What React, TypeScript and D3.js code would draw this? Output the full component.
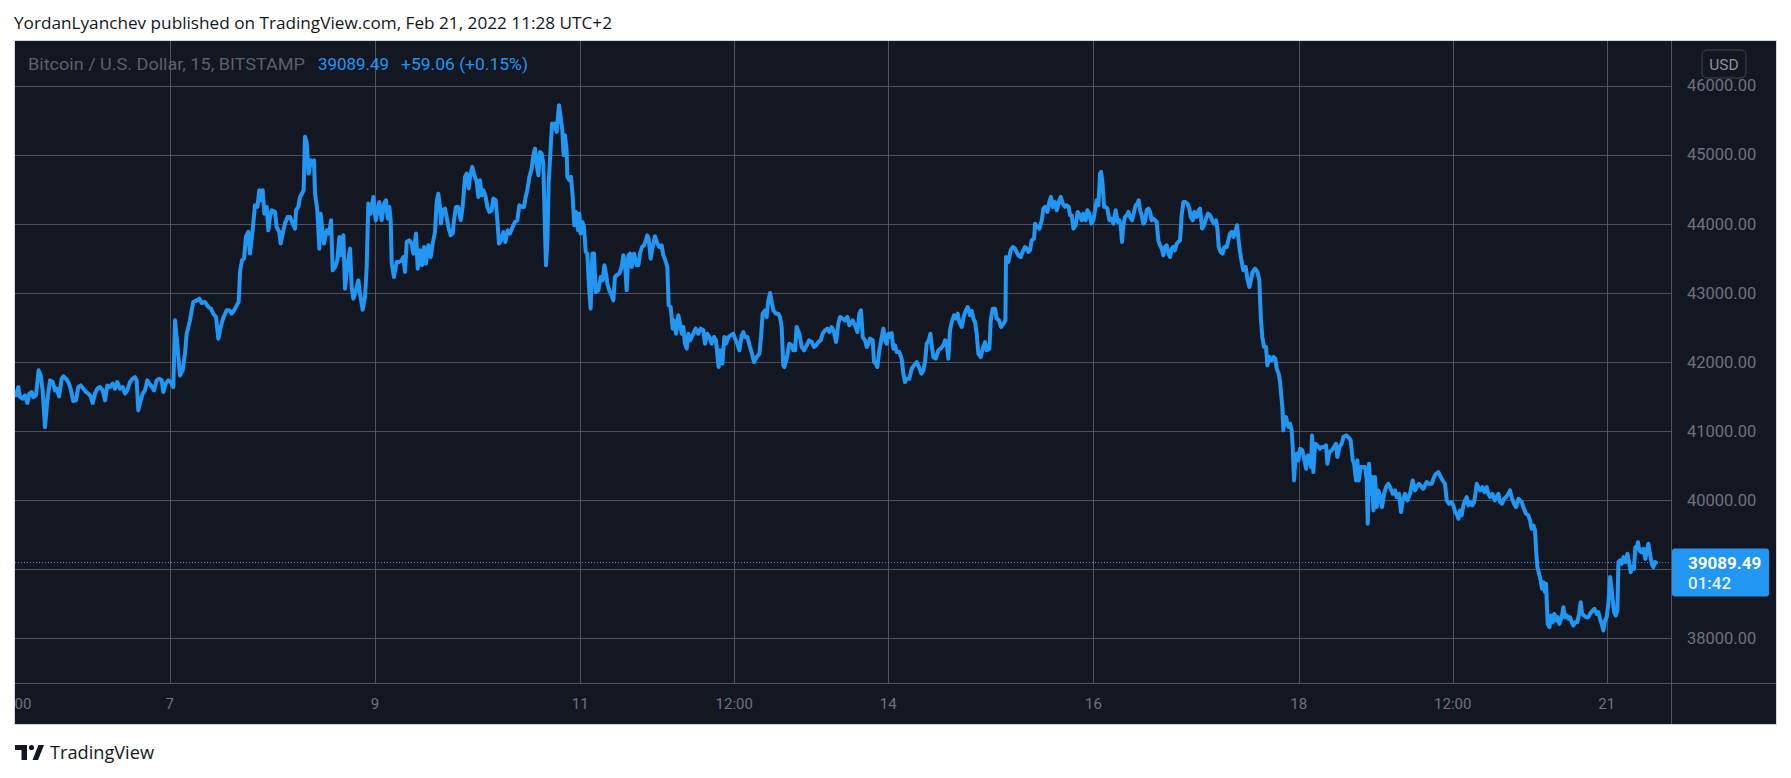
import React from "react";
import * as d3 from "d3";

// Bitcoin / U.S. Dollar, 15-minute closes (day of February, price in USD)
const btcPrice: [number, number][] = [
[5.503,41511],[5.525,41632],[5.542,41487],[5.568,41463],[5.590,41511],[5.613,41400],[5.633,41536],[5.655,41560],[5.671,41487],[5.697,41511],[5.723,41874],[5.743,41801],[5.762,41584],[5.785,41053],[5.808,41439],[5.834,41729],[5.860,41705],[5.883,41584],[5.899,41608],[5.922,41497],[5.948,41753],[5.964,41787],[5.990,41753],[6.012,41705],[6.035,41608],[6.061,41429],[6.087,41439],[6.110,41632],[6.133,41656],[6.159,41608],[6.185,41560],[6.207,41536],[6.230,41497],[6.250,41400],[6.272,41536],[6.295,41608],[6.321,41632],[6.347,41584],[6.370,41439],[6.392,41656],[6.418,41632],[6.444,41681],[6.467,41608],[6.490,41705],[6.516,41608],[6.542,41632],[6.565,41536],[6.587,41584],[6.613,41705],[6.639,41753],[6.662,41777],[6.678,41729],[6.694,41294],[6.717,41439],[6.737,41536],[6.759,41584],[6.782,41729],[6.802,41681],[6.824,41642],[6.847,41584],[6.873,41729],[6.899,41753],[6.922,41729],[6.938,41560],[6.964,41690],[6.987,41729],[7.009,41705],[7.035,41632],[7.052,42598],[7.074,42260],[7.100,41801],[7.126,41874],[7.149,42115],[7.165,42405],[7.182,42502],[7.198,42598],[7.214,42743],[7.230,42864],[7.263,42888],[7.289,42912],[7.311,42850],[7.344,42864],[7.376,42792],[7.402,42768],[7.425,42695],[7.451,42647],[7.474,42333],[7.497,42502],[7.523,42637],[7.555,42743],[7.581,42743],[7.604,42695],[7.627,42743],[7.653,42816],[7.672,42864],[7.685,43299],[7.704,43468],[7.724,43492],[7.743,43806],[7.766,43879],[7.782,43565],[7.808,43903],[7.831,44265],[7.854,44241],[7.873,44483],[7.886,44338],[7.906,44483],[7.922,44144],[7.945,44241],[7.961,43903],[7.977,44096],[7.994,44193],[8.026,44169],[8.042,43951],[8.068,43879],[8.081,43710],[8.101,43855],[8.123,44000],[8.149,44096],[8.172,44096],[8.198,44000],[8.221,43927],[8.231,44193],[8.253,44241],[8.270,44386],[8.289,44434],[8.305,44483],[8.318,45256],[8.334,45183],[8.354,44724],[8.373,44917],[8.393,44845],[8.406,44917],[8.416,44434],[8.438,44193],[8.458,43637],[8.471,44144],[8.487,43903],[8.503,43710],[8.529,43903],[8.552,43855],[8.572,44048],[8.588,43323],[8.611,43371],[8.633,43468],[8.653,43806],[8.666,43540],[8.692,43830],[8.708,43057],[8.724,43275],[8.740,43468],[8.757,43637],[8.773,43081],[8.789,42912],[8.815,43033],[8.838,43178],[8.854,42985],[8.880,42753],[8.903,42937],[8.919,43371],[8.935,44289],[8.958,44144],[8.984,44386],[9.007,44048],[9.026,44193],[9.042,44313],[9.065,44048],[9.088,44289],[9.107,44338],[9.124,44072],[9.140,44241],[9.153,44048],[9.163,43420],[9.185,43226],[9.211,43444],[9.237,43444],[9.260,43468],[9.276,43516],[9.293,43299],[9.309,43734],[9.335,43758],[9.357,43710],[9.374,43565],[9.400,43855],[9.416,43347],[9.439,43613],[9.458,43396],[9.478,43661],[9.497,43420],[9.520,43685],[9.543,43516],
[9.562,43710],[9.585,43879],[9.601,44313],[9.617,44434],[9.633,44241],[9.643,44000],[9.659,44193],[9.682,44217],[9.698,44096],[9.715,43951],[9.737,43830],[9.757,43855],[9.770,44048],[9.789,44241],[9.812,44241],[9.835,44048],[9.854,44241],[9.877,44676],[9.893,44724],[9.913,44507],[9.926,44676],[9.948,44821],[9.968,44700],[9.991,44603],[10.007,44386],[10.023,44628],[10.039,44410],[10.056,44483],[10.078,44386],[10.095,44241],[10.114,44169],[10.137,44193],[10.153,44362],[10.176,44338],[10.192,44048],[10.208,43710],[10.228,43758],[10.251,43879],[10.270,43734],[10.293,43903],[10.315,43855],[10.341,43951],[10.364,44024],[10.387,44048],[10.406,44265],[10.429,44241],[10.452,44241],[10.468,44386],[10.484,44483],[10.504,44676],[10.527,44797],[10.543,44990],[10.559,45086],[10.575,44869],[10.592,44700],[10.608,45038],[10.624,45014],[10.640,44869],[10.656,43903],[10.666,43396],[10.679,43710],[10.692,44579],[10.712,45111],[10.725,45449],[10.741,45376],[10.757,45449],[10.770,45328],[10.780,45497],[10.793,45714],[10.809,45545],[10.825,45352],[10.838,44990],[10.851,45280],[10.868,45038],[10.874,44676],[10.894,44628],[10.910,44676],[10.926,44386],[10.942,43975],[10.958,44169],[10.978,43903],[10.991,44144],[11.004,43855],[11.020,44024],[11.036,43951],[11.053,43589],[11.069,43565],[11.085,43081],[11.101,42768],[11.118,43565],[11.134,43565],[11.150,43009],[11.176,43033],[11.199,43226],[11.218,43178],[11.235,43396],[11.251,43275],[11.264,43130],[11.283,43033],[11.306,42961],[11.322,42888],[11.338,43226],[11.355,43251],[11.381,43275],[11.403,43371],[11.420,43540],[11.436,43420],[11.452,43033],[11.468,43540],[11.485,43565],[11.501,43371],[11.524,43565],[11.550,43396],[11.566,43396],[11.582,43565],[11.602,43661],[11.621,43685],[11.640,43758],[11.653,43830],[11.666,43782],[11.686,43492],[11.705,43661],[11.728,43816],[11.751,43710],[11.770,43661],[11.793,43685],[11.809,43540],[11.829,43468],[11.848,43371],[11.861,42816],[11.881,42792],[11.900,42478],[11.913,42598],[11.933,42405],[11.956,42671],[11.972,42550],[11.988,42405],[12.004,42502],[12.020,42260],[12.037,42188],[12.053,42405],[12.069,42309],[12.102,42405],[12.124,42478],[12.150,42405],[12.173,42478],[12.199,42454],[12.215,42260],[12.238,42405],[12.258,42357],[12.280,42260],[12.303,42357],[12.322,42309],[12.335,42115],[12.348,41922],[12.361,42164],[12.384,41970],[12.404,42357],[12.420,42260],[12.443,42357],[12.465,42381],[12.491,42405],[12.508,42333],[12.530,42260],[12.550,42164],[12.573,42381],[12.589,42429],[12.605,42357],[12.628,42357],[12.654,42212],[12.673,42115],[12.693,41995],[12.719,42067],[12.745,42115],[12.761,42357],[12.777,42695],[12.800,42743],[12.816,42647],[12.832,42888],[12.849,42995],[12.865,42864],[12.881,42743],[12.907,42695],[12.930,42695],[12.946,42647],[12.962,42502],[12.978,41946],[12.988,41922],[13.011,42043],[13.037,42260],[13.060,42236],[13.076,42164],[13.092,42164],[13.108,42502],[13.134,42405],[13.157,42212],[13.180,42164],[13.206,42236],[13.229,42309],[13.255,42284],[13.277,42212],[13.297,42236],[13.319,42284],[13.342,42309],[13.362,42405],[13.384,42454],[13.407,42478],[13.427,42429],[13.449,42502],[13.472,42429],[13.492,42284],[13.514,42550],[13.531,42647],[13.557,42623],[13.579,42598],[13.602,42647],[13.621,42526],
[13.654,42598],[13.677,42526],[13.700,42429],[13.719,42695],[13.735,42743],[13.752,42357],[13.774,42309],[13.791,42212],[13.807,42260],[13.823,42333],[13.849,42309],[13.862,41995],[13.881,41970],[13.894,41922],[13.914,42164],[13.937,42357],[13.953,42478],[13.969,42309],[13.985,42260],[14.002,42405],[14.018,42357],[14.034,42415],[14.050,42188],[14.067,42236],[14.083,42139],[14.109,42139],[14.131,42043],[14.148,41826],[14.164,41705],[14.180,41753],[14.206,41753],[14.229,41898],[14.252,41946],[14.278,41995],[14.300,41922],[14.323,41826],[14.343,41874],[14.359,41995],[14.375,42260],[14.395,42309],[14.411,42405],[14.424,42236],[14.440,42067],[14.463,42043],[14.489,42164],[14.511,42188],[14.537,42236],[14.554,42309],[14.570,42284],[14.586,42043],[14.602,42454],[14.619,42574],[14.641,42671],[14.661,42623],[14.677,42695],[14.693,42574],[14.716,42502],[14.739,42671],[14.758,42743],[14.775,42792],[14.797,42671],[14.814,42734],[14.830,42623],[14.846,42574],[14.862,42405],[14.878,42115],[14.901,42067],[14.921,42188],[14.943,42284],[14.960,42164],[14.986,42188],[14.999,42598],[15.018,42768],[15.041,42768],[15.057,42623],[15.080,42598],[15.099,42502],[15.122,42550],[15.142,42598],[15.148,43516],[15.171,43444],[15.193,43613],[15.213,43661],[15.236,43637],[15.268,43540],[15.291,43516],[15.310,43589],[15.333,43661],[15.349,43637],[15.366,43589],[15.382,43613],[15.398,43758],[15.421,43782],[15.431,43999],[15.453,43951],[15.473,43927],[15.496,44048],[15.512,44217],[15.528,44241],[15.551,44169],[15.570,44313],[15.586,44386],[15.603,44241],[15.625,44313],[15.642,44193],[15.668,44338],[15.681,44386],[15.700,44289],[15.723,44241],[15.739,44265],[15.759,44241],[15.772,44120],[15.788,44120],[15.804,43927],[15.827,43975],[15.846,44169],[15.869,44120],[15.885,44048],[15.901,44144],[15.924,44048],[15.940,44193],[15.960,44144],[15.979,43999],[15.999,44048],[16.015,44193],[16.031,44338],[16.048,44265],[16.064,44724],[16.074,44748],[16.087,44603],[16.103,44241],[16.119,44241],[16.135,44217],[16.155,44048],[16.178,44072],[16.194,43999],[16.216,44193],[16.236,44024],[16.252,44048],[16.265,43975],[16.278,43734],[16.291,43975],[16.307,44096],[16.324,44120],[16.340,44169],[16.356,44096],[16.376,44048],[16.395,44169],[16.411,44265],[16.428,44289],[16.441,44338],[16.454,44193],[16.470,44120],[16.486,43999],[16.502,44024],[16.518,44193],[16.535,44217],[16.551,44169],[16.567,44048],[16.583,44072],[16.600,44048],[16.616,44024],[16.632,43758],[16.648,43685],[16.665,43637],[16.681,43540],[16.697,43661],[16.713,43685],[16.730,43565],[16.746,43516],[16.762,43637],[16.778,43661],[16.794,43613],[16.811,43710],[16.827,43734],[16.843,43758],[16.859,44120],[16.876,44313],[16.892,44313],[16.915,44289],[16.934,44217],[16.947,44096],[16.967,44048],[16.983,44169],[17.006,44096],[17.025,44193],[17.038,44217],[17.058,43927],[17.077,43975],[17.097,44072],[17.116,44144],[17.136,44120],[17.155,44048],[17.175,43999],[17.194,44048],[17.207,43927],[17.220,43661],[17.239,43589],[17.259,43565],[17.275,43661],[17.298,43661],[17.330,43855],[17.347,43879],[17.363,43806],[17.386,43903],[17.399,43975],[17.412,43782],[17.428,43589],[17.444,43444],[17.460,43323],[17.483,43371],[17.499,43202],[17.519,43081],
[17.551,43299],[17.574,43347],[17.597,43299],[17.616,43178],[17.623,42888],[17.632,42598],[17.645,42357],[17.662,42212],[17.681,42212],[17.694,41946],[17.714,42067],[17.733,42019],[17.753,42067],[17.772,42043],[17.785,41898],[17.805,41826],[17.818,41705],[17.831,41487],[17.840,41342],[17.850,41004],[17.863,41198],[17.876,41198],[17.889,41101],[17.902,41053],[17.915,41101],[17.931,41004],[17.941,40763],[17.954,40280],[17.967,40594],[17.980,40666],[17.996,40570],[18.012,40739],[18.035,40714],[18.055,40570],[18.071,40449],[18.087,40642],[18.103,40618],[18.120,40473],[18.129,40932],[18.142,40400],[18.159,40811],[18.181,40787],[18.207,40739],[18.223,40763],[18.246,40763],[18.266,40787],[18.279,40521],[18.298,40690],[18.321,40714],[18.344,40763],[18.363,40811],[18.376,40618],[18.396,40763],[18.418,40811],[18.435,40908],[18.461,40932],[18.483,40908],[18.506,40859],[18.526,40570],[18.539,40521],[18.558,40280],[18.571,40570],[18.584,40280],[18.603,40473],[18.623,40473],[18.646,40473],[18.662,40280],[18.672,39652],[18.685,40521],[18.701,40086],[18.714,40328],[18.727,39845],[18.743,40328],[18.759,39893],[18.776,40135],[18.792,40038],[18.811,39893],[18.831,40086],[18.850,40183],[18.873,40231],[18.889,40183],[18.915,40086],[18.938,40135],[18.954,40038],[18.977,40086],[18.996,39821],[19.013,39990],[19.035,40086],[19.058,39990],[19.084,40086],[19.110,40280],[19.133,40135],[19.149,40183],[19.172,40231],[19.198,40183],[19.214,40159],[19.230,40207],[19.246,40255],[19.269,40231],[19.295,40231],[19.318,40328],[19.337,40376],[19.360,40400],[19.383,40328],[19.402,40280],[19.425,40231],[19.441,39990],[19.464,39941],[19.487,39966],[19.506,39917],[19.523,39821],[19.539,39797],[19.555,39724],[19.571,39845],[19.587,39772],[19.604,39917],[19.620,39990],[19.636,40038],[19.652,39917],[19.669,39966],[19.691,39917],[19.708,39966],[19.721,40086],[19.734,40231],[19.750,40183],[19.766,40135],[19.789,40183],[19.808,40110],[19.831,40183],[19.847,40086],[19.864,40038],[19.886,40086],[19.909,39990],[19.928,40038],[19.945,40086],[19.961,39966],[19.980,39941],[20.000,40014],[20.019,40038],[20.042,40086],[20.058,40135],[20.078,40014],[20.097,39941],[20.117,39893],[20.140,40014],[20.156,39990],[20.172,39966],[20.188,39893],[20.214,39797],[20.237,39772],[20.253,39700],[20.269,39579],[20.286,39627],[20.302,39555],[20.312,39265],[20.325,39024],[20.341,38927],[20.357,38830],[20.370,38710],[20.383,38806],[20.399,38661],[20.409,38782],[20.425,38202],[20.442,38154],[20.458,38323],[20.474,38226],[20.490,38347],[20.507,38250],[20.523,38299],[20.539,38202],[20.562,38299],[20.578,38444],[20.594,38299],[20.610,38323],[20.627,38275],[20.643,38299],[20.659,38226],[20.675,38178],[20.692,38226],[20.714,38226],[20.731,38347],[20.747,38516],[20.760,38347],[20.779,38323],[20.799,38299],[20.822,38299],[20.838,38347],[20.864,38395],[20.880,38420],[20.903,38347],[20.919,38371],[20.935,38275],[20.951,38202],[20.968,38106],[20.984,38250],[21.000,38299],[21.016,38492],[21.033,38879],[21.042,38782],[21.059,38540],[21.072,38371],[21.088,38323],[21.104,38395],[21.114,39096],[21.130,39120],[21.146,39072],[21.163,39168],[21.185,39096],[21.202,39217],[21.218,39096],[21.234,38951],[21.247,39024],[21.266,38999],[21.279,39313],[21.292,39289],[21.305,39386],[21.318,39265],[21.338,39241],[21.357,39289],[21.377,39144],[21.390,39265],[21.406,39362],[21.422,39217],[21.439,39072],[21.455,39024],[21.471,39096],[21.481,39089.49]
];

const yTickValues = [38000, 39000, 40000, 41000, 42000, 43000, 44000, 45000, 46000];
const xTickDays = [5.5, 7, 9, 11, 12.5, 14, 16, 18, 19.5, 21];
const xTickLabels = ["12:00", "7", "9", "11", "12:00", "14", "16", "18", "12:00", "21"];
const lastPrice = 39089.49;
const headerText = "YordanLyanchev published on TradingView.com, Feb 21, 2022 11:28 UTC+2";
const legendTitle = "Bitcoin / U.S. Dollar, 15, BITSTAMP";
const legendPrice = "39089.49";
const legendChange = "+59.06 (+0.15%)";
const countdown = "01:42";
const currency = "USD";
const brand = "TradingView";

const BG = "#131722";
const GRID = "#4f525c";
const BLUE = "#2196f3";
const AXIS_TEXT = "#6f727c";
const FONT = "Roboto, 'Liberation Sans', sans-serif";
const FONT2 = "'Open Sans', 'Noto Sans', sans-serif";

export default function App() {
  const W = 1791, H = 778;
  const fL = 15, fT = 41, fR = 1776, fB = 724;
  const pR = 1671, pB = 683;
  const x = d3.scaleLinear().domain([7, 21]).range([169.7, 1606.7]);
  const y = d3.scaleLinear().domain([38000, 46000]).range([637.8, 85.5]);
  const line = d3.line<[number, number]>().x(d => x(d[0])).y(d => y(d[1])).curve(d3.curveLinear);
  const yl = y(lastPrice);
  const boxTop = yl - 14, boxBottom = yl + 34;
  // labels hidden under the last-price box are not drawn (as in TradingView)
  const visibleYLabels = yTickValues.filter(v => y(v) + 9 < boxTop || y(v) - 9 > boxBottom);

  return (
    <svg width={W} height={H} style={{ position: "absolute", left: 0, top: 0, background: "#fff" }}>
      <defs>
        <clipPath id="plotClip"><rect x={fL} y={fT} width={pR - fL} height={pB - fT} /></clipPath>
        <clipPath id="timeClip"><rect x={fL} y={pB} width={pR - fL} height={fB - pB} /></clipPath>
      </defs>
      <text x={14} y={23} dy="0.35em" fontFamily={FONT2} fontSize={16} fill="#131722"
        textLength={598} lengthAdjust="spacingAndGlyphs">{headerText}</text>

      <rect x={fL - 0.5} y={fT - 0.5} width={fR - fL + 1} height={fB - fT + 1} fill={BG} stroke="#d6d8de" strokeWidth={1} />

      {/* grid */}
      <g clipPath="url(#plotClip)">
        {yTickValues.map(v => (
          <line key={"gy" + v} x1={fL} x2={pR} y1={Math.round(y(v)) + 0.5} y2={Math.round(y(v)) + 0.5} stroke={GRID} strokeWidth={1} />
        ))}
        {xTickDays.slice(1).map(d => (
          <line key={"gx" + d} x1={Math.round(x(d)) + 0.5} x2={Math.round(x(d)) + 0.5} y1={fT} y2={pB} stroke={GRID} strokeWidth={1} />
        ))}
      </g>

      {/* legend */}
      <text x={28} y={64} dy="0.35em" fontFamily={FONT} fontSize={16} fill="#5d606b" textLength={277} lengthAdjust="spacingAndGlyphs">{legendTitle}</text>
      <text x={318} y={64} dy="0.35em" fontFamily={FONT} fontSize={16.5} fill={BLUE} textLength={71} lengthAdjust="spacingAndGlyphs">{legendPrice}</text>
      <text x={401} y={64} dy="0.35em" fontFamily={FONT} fontSize={16.5} fill={BLUE} textLength={127} lengthAdjust="spacingAndGlyphs">{legendChange}</text>

      {/* series */}
      <g clipPath="url(#plotClip)">
        <line x1={fL} x2={pR} y1={yl} y2={yl} stroke={BLUE} strokeWidth={1} strokeDasharray="1 2" />
        <path d={line(btcPrice) || ""} fill="none" stroke={BLUE} strokeWidth={4} strokeLinejoin="round" strokeLinecap="round" />
      </g>

      {/* axis separators */}
      <line x1={pR + 0.5} x2={pR + 0.5} y1={fT} y2={fB} stroke={GRID} strokeWidth={1} />
      <line x1={fL} x2={fR} y1={pB + 0.5} y2={pB + 0.5} stroke={GRID} strokeWidth={1} />

      {/* price axis labels */}
      {visibleYLabels.map(v => (
        <text key={"yl" + v} x={1687} y={y(v)} dy="0.36em" fontFamily={FONT} fontSize={16.5} fill={AXIS_TEXT}>
          {d3.format(".2f")(v)}
        </text>
      ))}
      <rect x={1702} y={50} width={44} height={28} rx={5} fill={BG} stroke="#434651" strokeWidth={1} />
      <text x={1724} y={64} dy="0.36em" textAnchor="middle" fontFamily={FONT} fontSize={15.5} fill="#8f929b">{currency}</text>

      {/* last price label */}
      <rect x={pR + 1} y={boxTop} width={97} height={48} rx={3} fill={BLUE} />
      <text x={1688} y={yl + 6} fontFamily={FONT} fontSize={17} fontWeight={700} fill="#ffffff">{d3.format(".2f")(lastPrice)}</text>
      <text x={1688} y={yl + 26.5} fontFamily={FONT} fontSize={17} fontWeight={500} fill="#e3f0fd">{countdown}</text>

      {/* time axis labels */}
      <g clipPath="url(#timeClip)">
        {xTickDays.map((d, i) => (
          <text key={"xl" + i} x={x(d) - (i === 0 ? 3 : 0)} y={704} dy="0.36em" textAnchor="middle" fontFamily={FONT} fontSize={15} fill={AXIS_TEXT}>
            {xTickLabels[i]}
          </text>
        ))}
      </g>

      {/* footer brand */}
      <g fill="#131722">
        <rect x={15} y={745} width={12} height={5} />
        <rect x={21.5} y={745} width={5.5} height={15} />
        <circle cx={31.5} cy={747.5} r={2.6} />
        <polygon points="32.5,760 38,760 44,745 38.5,745" />
      </g>
      <text x={50} y={752.5} dy="0.36em" fontFamily={FONT2} fontSize={19} fill="#131722" textLength={104} lengthAdjust="spacingAndGlyphs">{brand}</text>
    </svg>
  );
}
